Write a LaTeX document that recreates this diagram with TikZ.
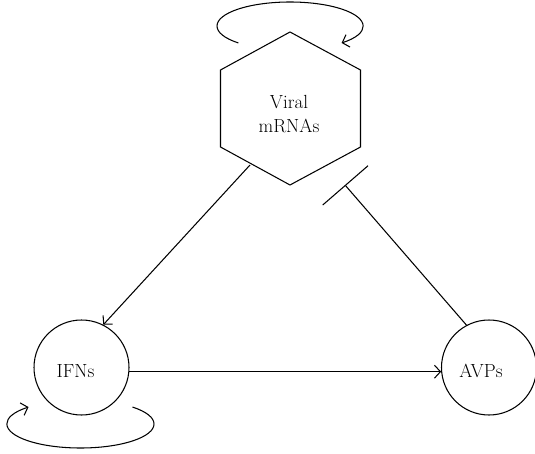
\documentclass[tikz,border=0pt]{standalone}
\usetikzlibrary{arrows.meta}
\begin{document}
\begin{tikzpicture}[x=1pt,y=-1pt,
  every path/.style={line width=1.05pt},
  conn/.style={draw,line width=1.05pt},
  arr/.style={conn,-{Straight Barb[length=6pt,width=13pt,line width=1.05pt]}},
  inh/.style={conn,-{Bar[width=60pt,line width=1.05pt]}},
  circnode/.style={draw,circle,line width=1.05pt,minimum size=95pt,inner sep=0pt},
  lbl/.style={font=\fontsize{19}{23.5}\selectfont,inner sep=0pt}]
\useasboundingbox (0,0) rectangle (535,454);
% hexagon
\coordinate (hT) at (290,32);
\coordinate (hUL) at (220.5,70);
\coordinate (hLL) at (220.5,147);
\coordinate (hB) at (290,185);
\coordinate (hLR) at (360.5,147);
\coordinate (hUR) at (360.5,70);
\draw (hT) -- (hUL) -- (hLL) -- (hB) -- (hLR) -- (hUR) -- cycle;
\node[lbl,align=center] (vm) at (289,114) {Viral\\mRNAs};
% circles
\node[circnode] (ifn) at (81.5,367.5) {};
\node[circnode] (avp) at (489,367.5) {};
\node[lbl,anchor=base] (ifnt) at (75.5,377) {IFNs};
\node[lbl,anchor=base] (avpt) at (481,377) {AVPs};
% connectors
\coordinate (hs) at (250,165);
\coordinate (te) at (345,185);
\draw[arr] (hs) -- (ifn.63);
\draw[inh] (avp.118) -- (te);
\draw[arr] (ifn.-5) -- (avp.185);
% self loops
\coordinate (ls1) at ([shift={(225:73 and -24)}]290,26);
\draw[arr] (ls1) arc[start angle=225,end angle=-45,x radius=73,y radius=-24];
\coordinate (ls2) at ([shift={(45:73.5 and -24)}]80.5,424);
\draw[arr] (ls2) arc[start angle=45,end angle=-225,x radius=73.5,y radius=-24];
\end{tikzpicture}
\end{document}
